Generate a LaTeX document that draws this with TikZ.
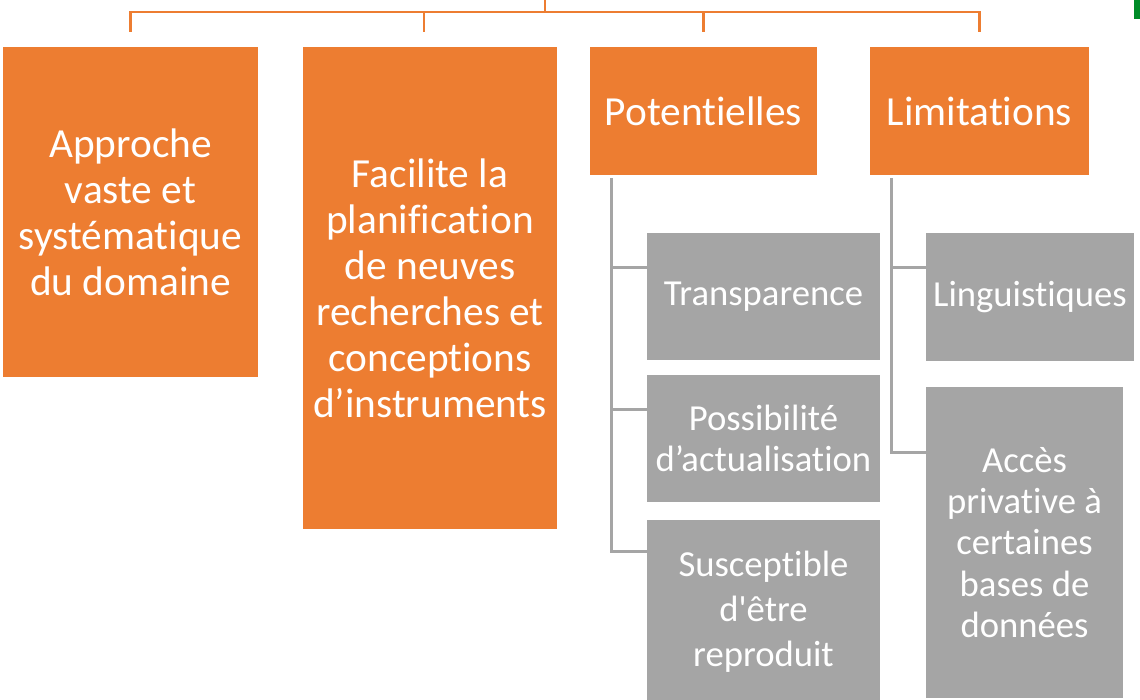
\documentclass[tikz,border=0pt]{standalone}
\usepackage{fontspec}
\setmainfont{Carlito}[RawFeature={-liga}]
\usetikzlibrary{calc}
\definecolor{boxorange}{RGB}{237,125,49}
\definecolor{boxgray}{RGB}{165,165,165}
\definecolor{markgreen}{RGB}{0,140,40}
\tikzset{
  topbox/.style={fill=boxorange,text=white,align=center,inner sep=0pt,font=\fontsize{31}{34.5}\selectfont},
  subbox/.style={fill=boxgray,text=white,align=center,inner sep=0pt,font=\fontsize{27.5}{31}\selectfont},
  orangeline/.style={draw=boxorange,line width=2pt},
  grayline/.style={draw=boxgray,line width=2.2pt},
}

\begin{document}
\begin{tikzpicture}[x=0.75pt,y=-0.75pt]
\clip (0,0) rectangle (1140,700);
% orange boxes
\node[topbox,minimum width=191.25pt,minimum height=247.5pt] (approche) at (130.5,212) {Approche\\vaste et\\systématique\\du domaine};
\node[topbox,minimum width=190.5pt,minimum height=361.5pt] (facilite) at (430,288) {Facilite la\\planification\\de neuves\\recherches et\\conceptions\\d’instruments};
\node[topbox,minimum width=170.25pt,minimum height=96pt] (potent) at (703.5,111) {Potentielles};
\node[topbox,minimum width=164.25pt,minimum height=96pt] (limit) at (979.5,111) {Limitations};
% gray boxes
\node[subbox,minimum width=174.75pt,minimum height=95.25pt] (transp) at (763.5,296.5) {Transparence};
\node[subbox,minimum width=174.75pt,minimum height=95.25pt] (actual) at (763.5,438.5) {Possibilité\\d’actualisation};
\node[subbox,minimum width=174.75pt,minimum height=138pt,font=\fontsize{27.5}{33.75}\selectfont] (reprod) at (763.5,612) {Susceptible\\d\textquotesingle être\\reproduit};
\node[subbox,minimum width=156pt,minimum height=96pt] (lingu) at (1030,297) {Linguistiques};
\node[subbox,minimum width=147.75pt,minimum height=233.25pt] (acces) at (1024.5,542.5) {Accès\\privative à\\certaines\\bases de\\données};
% top bus
\coordinate (root) at (545,0);
\coordinate (bus) at (545,12);
\draw[orangeline] (root) -- (bus);
\draw[orangeline,shorten >=11.25pt] (bus) -| (approche.north);
\draw[orangeline,shorten >=11.25pt] (bus) -| ([xshift=-4.5pt]facilite.north);
\draw[orangeline,shorten >=11.25pt] (bus) -| (potent.north);
\draw[orangeline,shorten >=11.25pt] (bus) -| (limit.north);
% gray connectors
\draw[grayline] ($(potent.south west)+(22,3)$) |- ($(transp.north west)+(0,35)$);
\draw[grayline] ($(potent.south west)+(22,3)$) |- ($(actual.north west)+(0,35)$);
\draw[grayline] ($(potent.south west)+(22,3)$) |- ($(reprod.north west)+(0,32)$);
\draw[grayline] ($(limit.south west)+(22,3)$) |- ($(lingu.north west)+(0,35)$);
\draw[grayline] ($(limit.south west)+(22,3)$) |- ($(acces.north west)+(0,66)$);
\fill[markgreen] (1134,0) rectangle (1140,19);
\end{tikzpicture}
\end{document}
